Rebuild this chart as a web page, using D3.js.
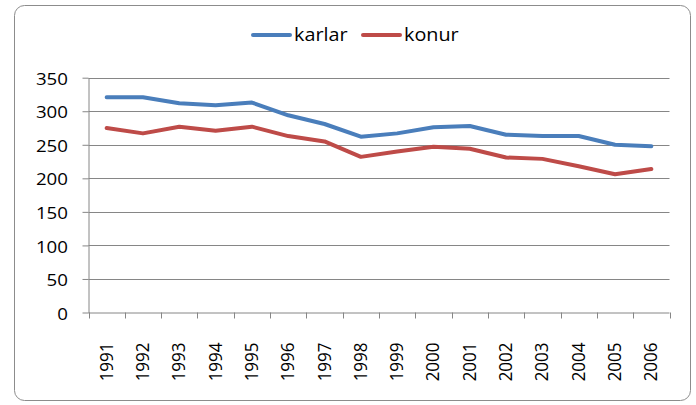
<!DOCTYPE html>
<html>
<head>
<meta charset="utf-8">
<script src="https://cdn.jsdelivr.net/npm/d3@7"></script>
<style>
  body { margin: 0; background: #fff; }
  text { font-family: "Open Sans", "Liberation Sans", sans-serif; fill: #000; }
</style>
</head>
<body>
<svg id="chart" width="696" height="405"></svg>
<script>
const years = ["1991","1992","1993","1994","1995","1996","1997","1998","1999","2000","2001","2002","2003","2004","2005","2006"];
const karlar = [321, 321, 312, 309, 313, 294, 281, 262, 267, 276, 278, 265, 263, 263, 250, 248];
const konur = [275, 267, 277, 271, 277, 263, 255, 232, 240, 247, 244, 231, 229, 218, 206, 214];
const seriesNames = ["karlar", "konur"];
const colors = ["#4A7EBB", "#BE4B48"];
const yTicks = [0, 50, 100, 150, 200, 250, 300, 350];

const svg = d3.select("#chart");
const sx = 1.1; // source picture is a bit stretched sideways

svg.append("rect")
  .attr("x", 14.5).attr("y", 5.5)
  .attr("width", 676).attr("height", 395)
  .attr("rx", 10)
  .attr("fill", "#fff")
  .attr("stroke", "#8c8c8c")
  .attr("stroke-width", 1);

const plotL = 88.5, plotR = 669.5, plotT = 77.7, plotB = 312.5;

const x = d3.scaleBand().domain(years).range([plotL, plotR]);
const y = d3.scaleLinear().domain([0, 350]).range([plotB, plotT]);

// gridlines
svg.append("g")
  .selectAll("line")
  .data(yTicks.slice(1)).enter()
  .append("line")
  .attr("x1", plotL).attr("x2", plotR)
  .attr("y1", d => Math.round(y(d)) + 0.5).attr("y2", d => Math.round(y(d)) + 0.5)
  .attr("stroke", "#868686");

// y axis
const yAxis = svg.append("g")
  .attr("transform", `translate(${plotL},0)`)
  .call(d3.axisLeft(y).tickValues(yTicks).tickSize(6).tickSizeOuter(0));
yAxis.select(".domain").attr("stroke", "#868686");
yAxis.selectAll(".tick line").attr("stroke", "#868686");
yAxis.selectAll(".tick text").remove();
svg.append("g")
  .selectAll("text")
  .data(yTicks).enter()
  .append("text")
  .attr("transform", d => `translate(68,${y(d)}) scale(${sx},1)`)
  .attr("text-anchor", "end")
  .attr("dy", "0.42em")
  .style("font-size", "17px")
  .text(d => d);

// x axis
const xAxis = svg.append("g")
  .attr("transform", `translate(0,${plotB})`);
xAxis.append("line")
  .attr("x1", plotL).attr("x2", plotR)
  .attr("y1", 0.5).attr("y2", 0.5)
  .attr("stroke", "#868686");
xAxis.selectAll("line.tk")
  .data(years.concat(["end"])).enter()
  .append("line")
  .attr("class", "tk")
  .attr("x1", (d, i) => Math.round(plotL + i * x.bandwidth()) + 0.5)
  .attr("x2", (d, i) => Math.round(plotL + i * x.bandwidth()) + 0.5)
  .attr("y1", 0).attr("y2", 6)
  .attr("stroke", "#868686");
svg.append("g")
  .selectAll("text")
  .data(years).enter()
  .append("text")
  .attr("transform", d => `translate(${x(d) + x.bandwidth() / 2 + 6},342.5) scale(${sx},1) rotate(-90)`)
  .attr("text-anchor", "end")
  .style("font-size", "17px")
  .text(d => d);

// lines
const line = d3.line()
  .x((d, i) => x(years[i]) + x.bandwidth() / 2)
  .y(d => y(d));

[karlar, konur].forEach((vals, k) => {
  svg.append("path")
    .datum(vals)
    .attr("d", line)
    .attr("fill", "none")
    .attr("stroke", colors[k])
    .attr("stroke-width", 4)
    .attr("stroke-linejoin", "round")
    .attr("stroke-linecap", "round");
});

// legend
const legendX = [253, 363];
seriesNames.forEach((name, k) => {
  const g = svg.append("g").attr("transform", `translate(${legendX[k]},35)`);
  g.append("line")
    .attr("x1", 0).attr("x2", 37)
    .attr("stroke", colors[k]).attr("stroke-width", 4)
    .attr("stroke-linecap", "round");
  g.append("text")
    .attr("transform", `translate(41,0) scale(${sx},1)`)
    .attr("dy", "0.36em")
    .style("font-size", "18px")
    .text(name);
});
</script>
</body>
</html>
